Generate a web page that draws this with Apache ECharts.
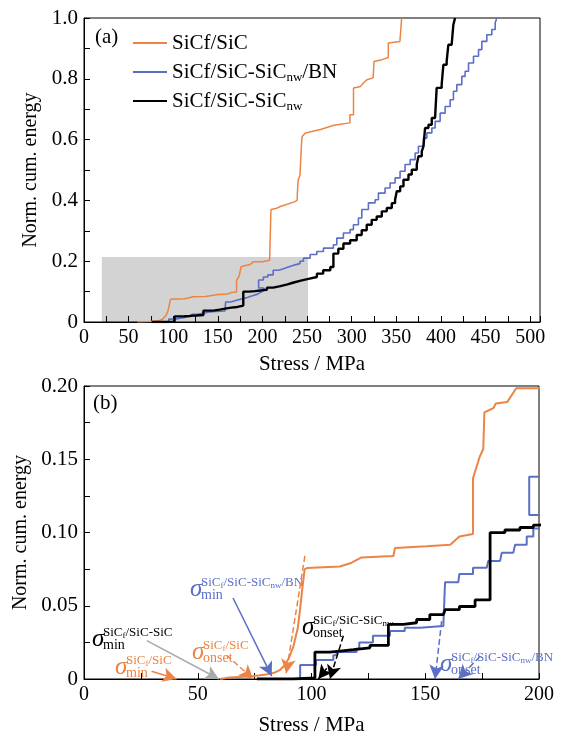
<!DOCTYPE html>
<html>
<head>
<meta charset="utf-8">
<script src="https://cdn.jsdelivr.net/npm/echarts@6/dist/echarts.min.js"></script>
<style>
    html, body { margin: 0; padding: 0; background: #fff; }
    #chart { width: 562px; height: 737px; }
</style>
</head>
<body>
<div id="chart"></div>
<script type="text/javascript">
    // ---- data (stress in MPa, normalised cumulative energy) ----
    var seriesNames = ['SiCf/SiC', 'SiCf/SiC-SiCnw/BN', 'SiCf/SiC-SiCnw'];

    // SiCf/SiC, drawn as a plain polyline
    var sicCurve = [
        [59.8, 0], [64, 0.001], [74, 0.0018], [80, 0.003], [84, 0.0045], [86, 0.006], [88, 0.009],
        [90, 0.014], [92, 0.022], [94, 0.035], [95, 0.048], [96, 0.062], [97, 0.075], [98, 0.0757],
        [112.5, 0.0768], [117, 0.079], [122, 0.083], [136, 0.084], [136.7, 0.0895], [150.6, 0.0906],
        [161, 0.0917], [165, 0.0972], [171, 0.099], [171, 0.137], [174, 0.152], [175.5, 0.157],
        [176, 0.182], [180, 0.185], [181, 0.188], [186, 0.189], [190, 0.1985], [200, 0.1985],
        [208, 0.203], [209.3, 0.205], [209.5, 0.37], [215, 0.373], [220, 0.38], [222, 0.385],
        [236.5, 0.396], [239, 0.401], [239, 0.418], [240, 0.467], [242, 0.483], [243.5, 0.485],
        [244, 0.6], [244.5, 0.61], [248, 0.622], [265, 0.633], [280, 0.647], [298, 0.655],
        [298, 0.682], [302, 0.682], [302, 0.77], [310, 0.775], [313, 0.786], [317, 0.797],
        [324, 0.803], [325, 0.857], [334, 0.863], [341, 0.87], [341, 0.918], [354, 0.923], [356, 1.0]
    ];

    // SiCf/SiC-SiCnw/BN, stair data: [stress, value after the jump]
    var bnSteps = [
        [89, 0], [95, 0.0007], [95, 0.0095], [102, 0.0095], [102, 0.0129], [109.6, 0.0162], [111, 0.0184],
        [119.8, 0.0206], [121, 0.025], [127, 0.0262], [127, 0.0295], [134.5, 0.0328], [141, 0.035],
        [147.7, 0.0362], [158, 0.0384], [158.7, 0.066], [164.5, 0.0673], [165, 0.0717], [171, 0.0728],
        [171, 0.076], [177, 0.0773], [177.7, 0.0806], [182.9, 0.0817], [183.6, 0.0861], [188.7, 0.0872],
        [189.5, 0.0917], [194.6, 0.0928], [194.6, 0.0972], [197.5, 0.0977], [197.5, 0.1028],
        [201.5, 0.112], [195.7, 0.138], [201, 0.148], [206, 0.155], [212, 0.17], [218, 0.175],
        [223.5, 0.181], [229, 0.187], [235, 0.192], [242, 0.2], [245.9, 0.21], [253.4, 0.222],
        [260.9, 0.232], [268.3, 0.243], [279.5, 0.254], [283.3, 0.276], [290.7, 0.293], [298.2, 0.304],
        [301.9, 0.32], [307.5, 0.342], [311.3, 0.37], [318.7, 0.392], [326.2, 0.402], [329.9, 0.424],
        [337.4, 0.441], [343, 0.457], [348.6, 0.474], [354.2, 0.496], [359.8, 0.518], [365.5, 0.534],
        [371.1, 0.556], [374.8, 0.578], [380.4, 0.605], [384.2, 0.622], [389.8, 0.638], [393.5, 0.66],
        [399.1, 0.687], [404.7, 0.709], [410.3, 0.731], [414, 0.759], [417.8, 0.781], [423.4, 0.808],
        [427.1, 0.825], [430.9, 0.852], [436.5, 0.874], [442.1, 0.896], [445.8, 0.923], [451.4, 0.945],
        [457, 0.962], [460.8, 0.984], [462.6, 1.0]
    ];

    // SiCf/SiC-SiCnw, stair data
    var nwSteps = [
        [76, 0], [92, 0.0007], [101.5, 0.0013], [101.5, 0.0184], [108, 0.019], [112.5, 0.02],
        [118.4, 0.0213], [125.7, 0.0229], [133.8, 0.0251], [133.8, 0.0373], [140.4, 0.0384],
        [146.2, 0.0406], [152, 0.044], [158, 0.045], [158.7, 0.0473], [165, 0.0495], [171.9, 0.0517],
        [171.9, 0.054], [178.5, 0.055], [178.5, 0.0999], [185, 0.1017], [191.6, 0.1034], [197.5, 0.105],
        [200, 0.106], [205, 0.113], [212, 0.118], [220, 0.124], [228, 0.13], [235, 0.136], [243, 0.142],
        [251.5, 0.148], [261, 0.159], [268, 0.17], [276, 0.181], [279.5, 0.187], [279.5, 0.225],
        [285, 0.241], [290.7, 0.258], [298.2, 0.269], [305.6, 0.286], [311.2, 0.302], [316.8, 0.32],
        [322.4, 0.336], [328, 0.347], [333.7, 0.364], [339.3, 0.375], [344.9, 0.391], [348.6, 0.402],
        [350.5, 0.43], [354.3, 0.446], [358, 0.468], [363.6, 0.485], [367.3, 0.501], [372.9, 0.518],
        [374.8, 0.545], [378.5, 0.561], [380.4, 0.578], [382.2, 0.638], [386, 0.649], [389.7, 0.671],
        [393.4, 0.676], [395.2, 0.77], [400.8, 0.781], [402.7, 0.846], [406.4, 0.857], [408.3, 0.912],
        [412, 0.918], [413.9, 0.978], [415.8, 1.0]
    ];

    // zoomed window marked in panel (a): [x0, y0], [x1, y1]
    var zoomBox = [[20, -0.012], [251, 0.214]];

    // arrows of panel (b): from -> to, in data units
    var arrows = [
        { from: [27.6, 0.0262], to: [59.3, 0], color: '#a9a9a9', type: 'solid' },
        { from: [29.7, 0.0053], to: [40.7, 0], color: '#eb8445', type: 'solid' },
        { from: [62.7, 0.0162], to: [74.4, 0], color: '#eb8445', type: 'dashed' },
        { from: [65.5, 0.0553], to: [82.5, 0.002], color: '#5b6fc6', type: 'solid' },
        { from: [97.1, 0.084], to: [88.9, 0.004], color: '#eb8445', type: 'dashed' },
        { from: [106.7, 0.0073], to: [103, 0], color: '#000', type: 'solid' },
        { from: [114, 0.0295], to: [108.1, 0], color: '#000', type: 'dashed' },
        { from: [157.2, 0.0395], to: [154.3, 0], color: '#5b6fc6', type: 'dashed' },
        { from: [174, 0.0153], to: [164.5, 0], color: '#5b6fc6', type: 'dashed' }
    ];

    // sigma labels of panel (b): pixel anchor of the sigma glyph
    var sigmaLabels = [
        { x: 92, y: 639, sup: 'SiC{f|f}/SiC-SiC', sub: 'min', color: '#000' },
        { x: 115, y: 667, sup: 'SiC{f|f}/SiC', sub: 'min', color: '#eb8445' },
        { x: 192, y: 652, sup: 'SiC{f|f}/SiC', sub: 'onset', color: '#eb8445' },
        { x: 190, y: 589, sup: 'SiC{f|f}/SiC-SiC{f|nw}/BN', sub: 'min', color: '#5b6fc6' },
        { x: 302, y: 627, sup: 'SiC{f|f}/SiC-SiC{f|nw}', sub: 'onset', color: '#000' },
        { x: 440, y: 664, sup: 'SiC{f|f}/SiC-SiC{f|nw}/BN', sub: 'onset', color: '#5b6fc6' }
    ];

    var SERIF = '"Liberation Serif", "DejaVu Serif", serif';
    var colors = ['#eb8445', '#5b6fc6', '#000000'];

    function xLabel(v) {
        return (Math.round(v) % 50 === 0 && v <= 500) ? String(Math.round(v)) : '';
    }
    function yLabelTop(v) {
        var r = Math.round(v * 10);
        if (r % 2) return '';
        return r === 0 ? '0' : (r / 10).toFixed(1);
    }
    function yLabelBottom(v) {
        var r = Math.round(v * 1000);
        if (r % 50) return '';
        return r === 0 ? '0' : (r / 1000).toFixed(2);
    }

    function xAxisOf(grid, max, nameGap) {
        return {
            gridIndex: grid, type: 'value', min: 0, max: max, interval: 25,
            name: 'Stress / MPa', nameLocation: 'middle', nameGap: nameGap,
            nameTextStyle: { fontFamily: SERIF, fontSize: 21, color: '#000' },
            axisLine: { lineStyle: { color: '#000', width: 1 } },
            axisTick: { inside: true, length: 6, lineStyle: { color: '#000' } },
            axisLabel: { fontFamily: SERIF, fontSize: 20, color: '#000', margin: 6, formatter: xLabel },
            splitLine: { show: false }
        };
    }
    function yAxisOf(grid, max, interval, fmt, nameGap) {
        return {
            gridIndex: grid, type: 'value', min: 0, max: max, interval: interval,
            name: 'Norm. cum. energy', nameLocation: 'middle', nameGap: nameGap,
            nameTextStyle: { fontFamily: SERIF, fontSize: 20, color: '#000' },
            axisLine: { lineStyle: { color: '#000', width: 1 } },
            axisTick: { inside: true, length: 6, lineStyle: { color: '#000' } },
            axisLabel: { fontFamily: SERIF, fontSize: 21, color: '#000', margin: 6, formatter: fmt },
            splitLine: { show: false }
        };
    }

    function curveSeries(grid, widths) {
        var list = [sicCurve, bnSteps, nwSteps];
        var out = [];
        for (var i = 0; i < 3; i++) {
            out.push({
                name: seriesNames[i],
                type: 'line',
                xAxisIndex: grid, yAxisIndex: grid,
                data: list[i],
                step: i === 0 ? false : 'end',
                symbol: 'none',
                lineStyle: { color: colors[i], width: widths[i] },
                itemStyle: { color: colors[i] },
                z: 2 + i
            });
        }
        return out;
    }

    var arrowData = [];
    for (var i = 0; i < arrows.length; i++) {
        arrowData.push([
            { coord: arrows[i].from, lineStyle: { color: arrows[i].color, type: arrows[i].type, width: 1.5 } },
            { coord: arrows[i].to }
        ]);
    }

    var graphics = [
        { type: 'text', x: 95, y: 37, style: { text: '(a)', fontFamily: SERIF, fontSize: 21, fill: '#000', verticalAlign: 'middle' } },
        { type: 'text', x: 93, y: 403, style: { text: '(b)', fontFamily: SERIF, fontSize: 21, fill: '#000', verticalAlign: 'middle' } }
    ];
    for (var j = 0; j < sigmaLabels.length; j++) {
        var s = sigmaLabels[j];
        graphics.push({ type: 'text', x: s.x, y: s.y, style: {
            text: 'σ', fontFamily: SERIF, fontStyle: 'italic', fontSize: 25, fill: s.color, verticalAlign: 'middle' } });
        graphics.push({ type: 'text', x: s.x + 11, y: s.y - 6, style: {
            text: s.sup, fontFamily: SERIF, fontSize: 13, lineHeight: 14, fill: s.color, verticalAlign: 'middle',
            rich: { f: { fontFamily: SERIF, fontSize: 9, lineHeight: 9, verticalAlign: 'bottom', fill: s.color } } } });
        graphics.push({ type: 'text', x: s.x + 11, y: s.y + 6, style: {
            text: s.sub, fontFamily: SERIF, fontSize: 14, fill: s.color, verticalAlign: 'middle' } });
    }

    var option = {
        animation: false,
        backgroundColor: '#fff',
        grid: [
            { left: 84, top: 18, width: 456, height: 304, show: true, borderColor: '#000', borderWidth: 1 },
            { left: 84, top: 386, width: 455, height: 300, show: true, borderColor: '#000', borderWidth: 1 }
        ],
        legend: {
            data: seriesNames,
            orient: 'vertical', left: 127, top: 26,
            itemWidth: 34, itemHeight: 14, itemGap: 5,
            itemStyle: { opacity: 0 },
            textStyle: {
                fontFamily: SERIF, fontSize: 21, color: '#000', lineHeight: 24, padding: [0, 0, 0, 0],
                rich: { sub: { fontFamily: SERIF, fontSize: 13, lineHeight: 13, verticalAlign: 'bottom', color: '#000' } }
            },
            formatter: function (n) { return n.replace('nw', '{sub|nw}'); }
        },
        xAxis: [xAxisOf(0, 511, 32), xAxisOf(1, 200, 36)],
        yAxis: [yAxisOf(0, 1, 0.1, yLabelTop, 41), yAxisOf(1, 0.2, 0.025, yLabelBottom, 47)],
        series: [].concat(
            [{
                type: 'line', xAxisIndex: 0, yAxisIndex: 0, data: [], clip: false, z: -1, silent: true,
                markArea: { silent: true, z: -1, itemStyle: { color: '#d3d3d3', opacity: 1 },
                    data: [[{ coord: zoomBox[0] }, { coord: zoomBox[1] }]] }
            }],
            curveSeries(0, [1.5, 1.6, 2.4]),
            curveSeries(1, [2, 2, 2.8]),
            [{
                type: 'line', xAxisIndex: 1, yAxisIndex: 1, data: [], clip: false, silent: true,
                markLine: { silent: true, symbol: ['none', 'arrow'], symbolSize: [11, 14],
                    label: { show: false }, data: arrowData }
            }]
        ),
        graphic: graphics
    };

    var myChart = echarts.init(document.getElementById('chart'));
    myChart.setOption(option);
</script>
</body>
</html>
